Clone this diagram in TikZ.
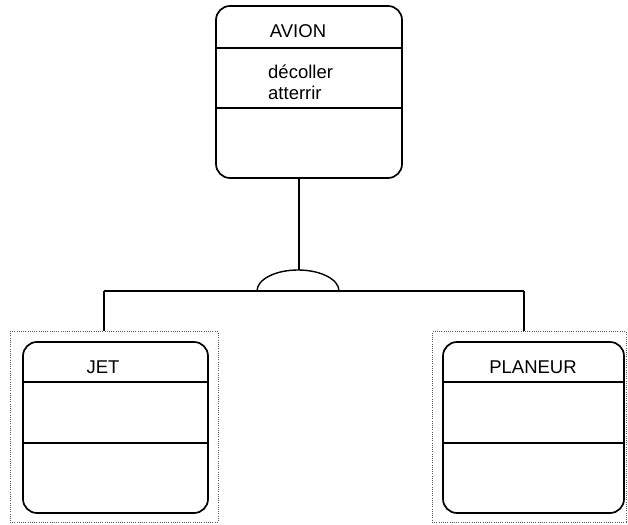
\documentclass[tikz,border=0pt]{standalone}
\usepackage{fontspec}
\setmainfont{Liberation Sans}
\begin{document}
\begin{tikzpicture}[x=1pt,y=1pt,
  classbox/.style={draw, line width=1.7pt, rounded corners=14pt, inner sep=0pt},
  frame/.style={draw=black!65, dash pattern=on 1pt off 1.2pt, line width=1pt},
  link/.style={line width=1.4pt},
  sep/.style={line width=1.4pt},
  lbl/.style={inner sep=0pt, font=\fontsize{18.5}{21}\selectfont},
]
\useasboundingbox (0,0) rectangle (628,524);

% superclass
\node[classbox, minimum width=186pt, minimum height=172pt] (avion) at (309,432) {};
\draw[sep] (avion.west |- 0,476) -- (avion.east |- 0,476);
\draw[sep] (avion.west |- 0,416) -- (avion.east |- 0,416);
\node[lbl] (avionname) at (298,493) {AVION};
\node[lbl, anchor=west, align=left] (avionops) at (268,442) {décoller\\atterrir};

% subclasses with their dotted frames
\node[frame, minimum width=208pt, minimum height=190pt, inner sep=0pt] (jetframe) at (114,97) {};
\node[classbox, minimum width=185pt, minimum height=171pt] (jet) at (115.5,96.5) {};
\draw[sep] (jet.west |- 0,142) -- (jet.east |- 0,142);
\draw[sep] (jet.west |- 0,81) -- (jet.east |- 0,81);
\node[lbl] (jetname) at (103,157) {JET};

\node[frame, minimum width=194pt, minimum height=190pt, inner sep=0pt] (planframe) at (529,97) {};
\node[classbox, minimum width=181pt, minimum height=171pt] (planeur) at (533.5,96.5) {};
\draw[sep] (planeur.west |- 0,142) -- (planeur.east |- 0,142);
\draw[sep] (planeur.west |- 0,81) -- (planeur.east |- 0,81);
\node[lbl] (planname) at (533,157) {PLANEUR};

% inheritance connector
\coordinate (arcleft) at (257,233);
\coordinate (arctop) at (299,254);
\coordinate (jetdrop) at (104,233);
\coordinate (plandrop) at (524,233);
\draw[link] (avion.south -| arctop) -- (arctop);
\draw[link] (arcleft) arc[start angle=180, end angle=0, x radius=41pt, y radius=21pt];
\draw[link] (jetdrop) -- (plandrop);
\draw[link] (jetdrop) -- (jetframe.north -| jetdrop);
\draw[link] (plandrop) -- (planframe.north -| plandrop);
\end{tikzpicture}
\end{document}
